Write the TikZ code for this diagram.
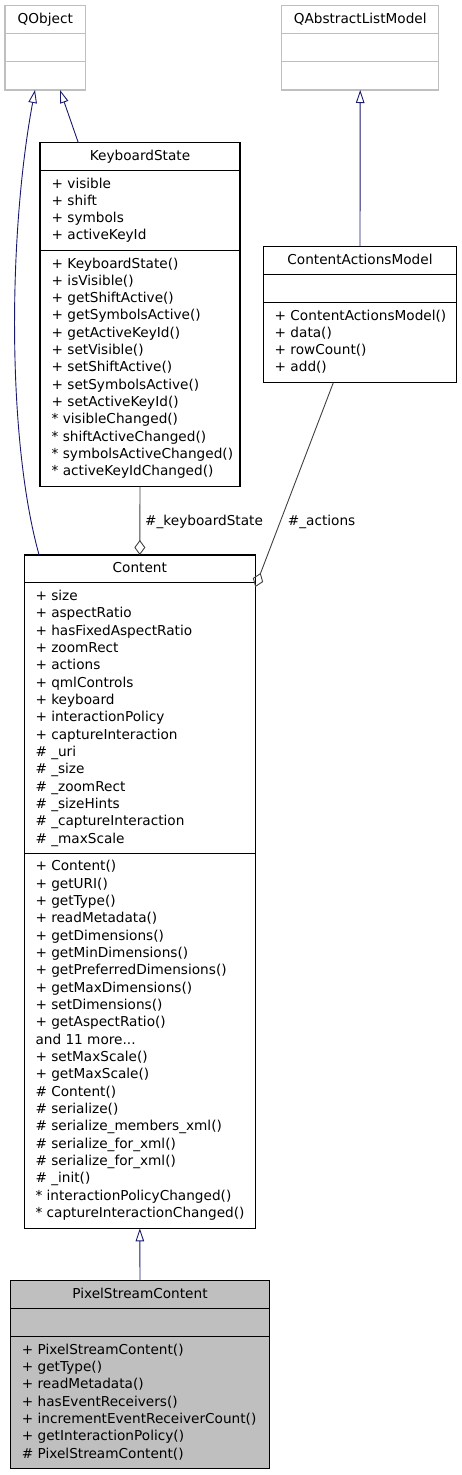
\documentclass[tikz,border=0pt]{standalone}
\usepackage{fontspec}
\setmainfont{DejaVu Sans}
\usetikzlibrary{arrows.meta,calc}
\definecolor{graybord}{HTML}{BFBFBF}
\definecolor{inhcol}{HTML}{191970}
\definecolor{aggcol}{HTML}{404040}
\definecolor{selfill}{HTML}{BFBFBF}
\newcommand\fs{\fontsize{13.65}{17.33}\selectfont}
\newcommand\memberlist[4]{%
  \foreach \t [count=\i from 0] in {#4} \node[txt] (#1\i) at (#2,{#3+17.33*\i}) {\t};}
\begin{document}
\begin{tikzpicture}[x=1pt,y=-1pt,
  box/.style={draw=black,line width=1.1pt,inner sep=0pt,outer sep=0pt,anchor=north west,fill=white},
  gbox/.style={box,draw=graybord},
  selbox/.style={box,fill=selfill},
  divline/.style={line width=1.1pt,draw=black},
  gdivline/.style={line width=1.1pt,draw=graybord},
  txt/.style={inner sep=0pt,anchor=base west,font=\fs},
  ttl/.style={inner sep=0pt,anchor=base,font=\fs},
  inherit/.style={draw=inhcol,line width=0.9pt,-{Triangle[open,length=13pt,width=8.5pt,line width=0.9pt]}},
  agg/.style={draw=aggcol,line width=0.9pt,-{Diamond[open,length=15pt,width=11pt,line width=0.9pt]}},
  elabel/.style={inner sep=0pt,anchor=base west,font=\fs}]
\useasboundingbox (0,0) rectangle (461,1475);

% QObject
\node[gbox,minimum width=80.7,minimum height=84.3] (qobj) at (5,5.7) {};
\node[ttl] (qobj-t) at (45.3,23) {QObject};
\draw[gdivline] ($(qobj.north west)+(0,27.6)$) -- ($(qobj.north east)+(0,27.6)$);
\draw[gdivline] ($(qobj.north west)+(0,56)$) -- ($(qobj.north east)+(0,56)$);

% QAbstractListModel
\node[gbox,minimum width=157,minimum height=84.3] (qalm) at (281.7,5.7) {};
\node[ttl] (qalm-t) at (360.2,23) {QAbstractListModel};
\draw[gdivline] ($(qalm.north west)+(0,27.6)$) -- ($(qalm.north east)+(0,27.6)$);
\draw[gdivline] ($(qalm.north west)+(0,56)$) -- ($(qalm.north east)+(0,56)$);

% KeyboardState
\node[box,minimum width=200,minimum height=344] (ks) at (40,142.7) {};
\node[ttl] (ks-t) at (140,160) {KeyboardState};
\draw[divline] ($(ks.north west)+(0,28)$) -- ($(ks.north east)+(0,28)$);
\draw[divline] ($(ks.north west)+(0,108)$) -- ($(ks.north east)+(0,108)$);
\memberlist{ks-a}{51.5}{188}{+ visible,+ shift,+ symbols,+ activeKeyId}
\memberlist{ks-m}{51.5}{268}{+ KeyboardState(),+ isVisible(),+ getShiftActive(),+ getSymbolsActive(),+ getActiveKeyId(),+ setVisible(),+ setShiftActive(),+ setSymbolsActive(),+ setActiveKeyId(),* visibleChanged(),* shiftActiveChanged(),* symbolsActiveChanged(),* activeKeyIdChanged()}

% ContentActionsModel
\node[box,minimum width=193.4,minimum height=136] (cam) at (263.3,246.7) {};
\node[ttl] (cam-t) at (360,264.3) {ContentActionsModel};
\draw[divline] ($(cam.north west)+(0,27.6)$) -- ($(cam.north east)+(0,27.6)$);
\draw[divline] ($(cam.north west)+(0,55.6)$) -- ($(cam.north east)+(0,55.6)$);
\memberlist{cam-m}{274.5}{320}{+ ContentActionsModel(),+ data(),+ rowCount(),+ add()}

% Content
\node[box,minimum width=231,minimum height=673.3] (content) at (24.3,555) {};
\node[ttl] (content-t) at (139.8,572.7) {Content};
\draw[divline] ($(content.north west)+(0,27.7)$) -- ($(content.north east)+(0,27.7)$);
\draw[divline] ($(content.north west)+(0,298.3)$) -- ($(content.north east)+(0,298.3)$);
\memberlist{content-a}{35.3}{600.5}{+ size,+ aspectRatio,+ hasFixedAspectRatio,+ zoomRect,+ actions,+ qmlControls,+ keyboard,+ interactionPolicy,+ captureInteraction,\# \_uri,\# \_size,\# \_zoomRect,\# \_sizeHints,\# \_captureInteraction,\# \_maxScale}
\memberlist{content-m}{35.3}{870.8}{+ Content(),+ getURI(),+ getType(),+ readMetadata(),+ getDimensions(),+ getMinDimensions(),+ getPreferredDimensions(),+ getMaxDimensions(),+ setDimensions(),+ getAspectRatio(),{and 11 more.{}.{}.},+ setMaxScale(),+ getMaxScale(),\# Content(),\# serialize(),\# serialize\_members\_xml(),\# serialize\_for\_xml(),\# serialize\_for\_xml(),\# \_init(),* interactionPolicyChanged(),* captureInteractionChanged()}

% PixelStreamContent
\node[selbox,minimum width=258.6,minimum height=187.6] (psc) at (10.7,1280.7) {};
\node[ttl] (psc-t) at (140,1298) {PixelStreamContent};
\draw[divline] ($(psc.north west)+(0,27.6)$) -- ($(psc.north east)+(0,27.6)$);
\draw[divline] ($(psc.north west)+(0,56)$) -- ($(psc.north east)+(0,56)$);
\memberlist{psc-m}{21.7}{1354.2}{+ PixelStreamContent(),+ getType(),+ readMetadata(),+ hasEventReceivers(),+ incrementEventReceiverCount(),+ getInteractionPolicy(),\# PixelStreamContent()}

% Inheritance edges
\draw[inherit] ($(content.north west)+(14.8,0)$) .. controls (7,440) and (8,235) .. ($(qobj.south west)+(30,0)$);
\draw[inherit] ($(ks.north west)+(38.3,0)$) -- ($(qobj.south west)+(55,0)$);
\draw[inherit] (cam.north) -- (qalm.south);
\draw[inherit] (psc.north) -- (content.south);

% Aggregation edges
\draw[agg] (ks.south) -- (content.north);
\draw[agg] ($(cam.south west)+(70,0)$) -- ($(content.north east)+(0,32)$);
\node[elabel] (lab-ks) at (145,525) {\#\_keyboardState};
\node[elabel] (lab-act) at (287.7,525) {\#\_actions};
\end{tikzpicture}
\end{document}
